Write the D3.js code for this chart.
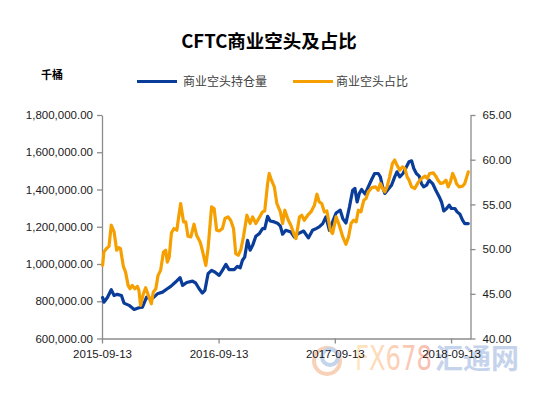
<!DOCTYPE html>
<html><head><meta charset="utf-8">
<script src="https://cdn.jsdelivr.net/npm/d3@7/dist/d3.min.js"></script>
<style>
html,body{margin:0;padding:0;background:#fff;}
svg{display:block;}
</style></head>
<body><svg id="c" width="537" height="394"></svg>
<script>
const title = "CFTC商业空头及占比";
const unitLabel = "千桶";
const seriesNames = ["商业空头持仓量", "商业空头占比"];
const xTickLabels = ["2015-09-13","2016-09-13","2017-09-13","2018-09-13"];
const xDomain = ["2015-09-13","2018-11-13"];
const leftTicks = [600000,800000,1000000,1200000,1400000,1600000,1800000];
const rightTicks = [40,45,50,55,60,65];

const blueDates = ["2015-09-15","2015-09-19","2015-09-30","2015-10-12","2015-10-21","2015-10-31","2015-11-13","2015-11-21","2015-12-07","2015-12-23",
"2016-01-07","2016-01-18","2016-01-31","2016-02-11","2016-02-21","2016-03-05","2016-03-21","2016-04-05","2016-04-16","2016-05-01",
"2016-05-15","2016-05-23","2016-06-05","2016-06-23","2016-07-03","2016-07-14","2016-07-24","2016-08-01","2016-08-11","2016-08-22",
"2016-09-01","2016-09-15","2016-09-25","2016-10-06","2016-10-16","2016-11-01","2016-11-11","2016-11-20","2016-11-27","2016-12-04",
"2016-12-13","2016-12-21","2016-12-29","2017-01-08","2017-01-19","2017-01-29","2017-02-05","2017-02-14","2017-02-22","2017-03-07",
"2017-03-17","2017-03-26","2017-04-02","2017-04-12","2017-04-28","2017-05-09","2017-05-21","2017-06-07","2017-06-22","2017-07-05",
"2017-07-16","2017-07-26","2017-08-06","2017-08-16","2017-08-27","2017-09-06","2017-09-17","2017-09-30","2017-10-08","2017-10-18",
"2017-10-29","2017-11-08","2017-11-15","2017-11-22","2017-11-29","2017-12-06","2017-12-17","2017-12-27","2018-01-07","2018-01-16",
"2018-01-27","2018-02-03","2018-02-10","2018-02-17","2018-02-27","2018-03-10","2018-03-20","2018-03-27","2018-04-05","2018-04-15",
"2018-04-26","2018-05-04","2018-05-12","2018-05-19","2018-05-27","2018-06-05","2018-06-12","2018-06-19","2018-06-28","2018-07-06",
"2018-07-17","2018-07-27","2018-08-07","2018-08-14","2018-08-21","2018-08-30","2018-09-07","2018-09-14","2018-09-25","2018-10-02",
"2018-10-11","2018-10-19","2018-10-26","2018-11-06"];

const blueValues = [820000,795000,820000,862000,831000,837000,831000,790000,778000,756000,
765000,768000,822000,814000,819000,840000,849000,867000,880000,903000,
927000,885000,901000,908000,898000,867000,844000,858000,948000,966000,
957000,939000,966000,998000,970000,970000,987000,980000,1020000,1037000,
1127000,1074000,1100000,1149000,1163000,1190000,1190000,1256000,1231000,1226000,
1219000,1203000,1160000,1181000,1172000,1145000,1163000,1177000,1140000,1181000,
1190000,1199000,1217000,1253000,1181000,1226000,1274000,1289000,1244000,1220000,
1307000,1396000,1406000,1333000,1379000,1400000,1375000,1414000,1455000,1486000,
1486000,1468000,1414000,1379000,1400000,1423000,1468000,1495000,1468000,1486000,
1522000,1549000,1554000,1513000,1486000,1472000,1432000,1414000,1423000,1450000,
1432000,1396000,1360000,1333000,1285000,1298000,1316000,1298000,1298000,1280000,
1267000,1235000,1217000,1217000];

const ratioDates = ["2015-09-15","2015-09-19","2015-09-27","2015-10-05","2015-10-12","2015-10-21","2015-10-29","2015-11-05","2015-11-10","2015-11-19",
"2015-11-26","2015-12-04","2015-12-10","2015-12-17","2015-12-25","2016-01-02","2016-01-07","2016-01-12","2016-01-21","2016-01-28",
"2016-02-02","2016-02-11","2016-02-15","2016-02-21","2016-02-29","2016-03-07","2016-03-15","2016-03-24","2016-03-31","2016-04-05",
"2016-04-11","2016-04-18","2016-04-26","2016-05-05","2016-05-10","2016-05-17","2016-05-26","2016-06-02","2016-06-09","2016-06-18",
"2016-06-28","2016-07-06","2016-07-17","2016-07-24","2016-08-04","2016-08-11","2016-08-22","2016-08-30","2016-09-07","2016-09-15",
"2016-09-25","2016-10-03","2016-10-13","2016-10-21","2016-10-30","2016-11-06","2016-11-14","2016-11-22","2016-11-30","2016-12-11",
"2016-12-21","2016-12-29","2017-01-08","2017-01-19","2017-01-29","2017-02-05","2017-02-14","2017-02-19","2017-02-26","2017-03-07",
"2017-03-15","2017-03-26","2017-04-02","2017-04-09","2017-04-20","2017-04-28","2017-05-07","2017-05-14","2017-05-25","2017-06-01",
"2017-06-09","2017-06-20","2017-06-30","2017-07-11","2017-07-19","2017-07-26","2017-08-03","2017-08-11","2017-08-19","2017-08-30",
"2017-09-06","2017-09-17","2017-09-27","2017-10-08","2017-10-18","2017-10-26","2017-11-03","2017-11-11","2017-11-19","2017-11-26",
"2017-12-04","2017-12-13","2017-12-20","2017-12-27","2018-01-07","2018-01-19","2018-01-27","2018-02-03","2018-02-10","2018-02-17",
"2018-02-24","2018-03-04","2018-03-13","2018-03-20","2018-03-27","2018-04-05","2018-04-13","2018-04-21","2018-04-28","2018-05-04",
"2018-05-12","2018-05-22","2018-06-01","2018-06-12","2018-06-23","2018-06-30","2018-07-08","2018-07-19","2018-07-27","2018-08-03",
"2018-08-11","2018-08-19","2018-08-28","2018-09-04","2018-09-11","2018-09-18","2018-09-25","2018-09-30","2018-10-08","2018-10-19",
"2018-10-26","2018-11-06"];

const ratioValues = [48.18,49.68,50.06,50.31,52.67,51.92,49.87,50.17,50.06,48.07,
47.43,45.94,45.57,45.94,45.57,45.83,45.38,43.70,45.01,45.68,
45.19,44.26,43.89,45.19,45.57,47.06,47.62,49.68,49.87,48.55,
49.11,51.81,52.30,52.11,53.42,55.10,53.04,53.04,51.44,51.36,
52.78,51.55,50.80,49.87,48.18,50.06,54.72,54.54,52.11,52.03,
52.30,53.42,53.60,53.23,52.30,49.50,49.31,49.94,51.36,53.79,
52.86,53.60,52.86,53.53,54.16,54.27,57.34,58.46,57.71,56.96,
55.10,54.16,52.86,54.35,53.23,52.67,51.74,51.18,53.60,53.79,
53.23,53.79,54.16,54.91,56.14,55.28,55.10,54.16,54.27,52.11,
51.74,53.60,52.67,51.36,50.54,51.36,52.86,53.23,53.04,54.35,
54.16,55.47,55.66,56.40,56.87,56.96,56.59,57.34,56.78,56.40,
56.96,58.08,59.59,59.96,59.40,58.83,59.20,59.03,58.08,57.71,
56.96,56.78,57.41,57.90,58.16,57.90,58.46,58.53,58.16,57.71,
57.34,57.41,57.71,56.96,57.52,58.46,57.90,57.34,56.96,57.04,
57.34,58.64];

const BLUE = "#0a3d9a", ORANGE = "#f5a000", AXIS = "#8c8c8c", TXT = "#1a1a1a";
const parse = d3.timeParse("%Y-%m-%d");
const svg = d3.select("#c");
const L = 102, R = 470.5, T = 115, B = 338.5;
const FONT = "'Liberation Sans', Arial, sans-serif";
const CJK = "'Noto Sans CJK SC', sans-serif";

const x = d3.scaleTime().domain(xDomain.map(parse)).range([L, R]);
const yL = d3.scaleLinear().domain([600000, 1800000]).range([B, T]);
const yR = d3.scaleLinear().domain([40, 65]).range([B, T]);

// watermark
const wm = svg.append("g").attr("opacity", 0.6);
const grad = svg.append("defs").append("linearGradient").attr("id","wmg").attr("x1","0").attr("x2","1");
grad.append("stop").attr("offset","0").attr("stop-color","#ffd890");
grad.append("stop").attr("offset","1").attr("stop-color","#f59080");
wm.append("circle").attr("cx",327).attr("cy",361).attr("r",13).attr("fill","none").attr("stroke","#f2b38a").attr("stroke-width",4);
wm.append("circle").attr("cx",330).attr("cy",357).attr("r",8).attr("fill","none").attr("stroke","#9db8de").attr("stroke-width",4);
wm.append("text").attr("x",355).attr("y",370).attr("font-family","'DejaVu Sans', sans-serif")
  .attr("font-size",34).attr("fill","url(#wmg)").attr("textLength",77).attr("lengthAdjust","spacingAndGlyphs").text("FX678");
wm.append("text").attr("x",435).attr("y",369).attr("font-family",CJK).attr("font-weight","bold")
  .attr("font-size",28).attr("fill","#9fb9e0").text("汇通网");

// title
svg.append("text").attr("x",269).attr("y",48).attr("text-anchor","middle")
  .attr("font-family",CJK).attr("font-weight","bold").attr("font-size",18.5).attr("fill","#000").text(title);
svg.append("text").attr("x",41).attr("y",79).attr("font-family",CJK).attr("font-weight","bold")
  .attr("font-size",11).attr("fill","#000").text(unitLabel);

// legend
const lg = [{x1:137,x2:177,tx:183,c:BLUE,t:seriesNames[0]},{x1:293,x2:333,tx:336,c:ORANGE,t:seriesNames[1]}];
lg.forEach(d => {
  svg.append("line").attr("x1",d.x1).attr("x2",d.x2).attr("y1",81.5).attr("y2",81.5).attr("stroke",d.c).attr("stroke-width",3);
  svg.append("text").attr("x",d.tx).attr("y",86).attr("font-family",CJK).attr("font-size",12).attr("fill","#404040").text(d.t);
});

function styleAxis(g){
  g.select(".domain").attr("stroke",AXIS).attr("stroke-width",1.3);
  g.selectAll(".tick line").attr("stroke",AXIS).attr("stroke-width",1.3);
  g.selectAll(".tick text").attr("fill",TXT).attr("font-family",FONT).attr("font-size",11.5);
}

const gl = svg.append("g").attr("transform",`translate(${L},0)`)
  .call(d3.axisLeft(yL).tickValues(leftTicks).tickFormat(d3.format(",.2f")).tickSize(5).tickSizeOuter(0).tickPadding(4));
styleAxis(gl);
const gr = svg.append("g").attr("transform",`translate(${R},0)`)
  .call(d3.axisRight(yR).tickValues(rightTicks).tickFormat(d3.format(".2f")).tickSize(5).tickSizeOuter(0).tickPadding(7));
styleAxis(gr);
const gb = svg.append("g").attr("transform",`translate(0,${B})`)
  .call(d3.axisBottom(x).tickValues(xTickLabels.map(parse)).tickFormat(d3.timeFormat("%Y-%m-%d")).tickSize(5).tickSizeOuter(0).tickPadding(6));
styleAxis(gb);

const blue = blueDates.map((d,i)=>({d:parse(d),v:blueValues[i]}));
const ratio = ratioDates.map((d,i)=>({d:parse(d),v:ratioValues[i]}));

svg.append("path").datum(blue).attr("fill","none").attr("stroke",BLUE).attr("stroke-width",3.2)
  .attr("stroke-linejoin","round").attr("stroke-linecap","round")
  .attr("d", d3.line().x(d=>x(d.d)).y(d=>yL(d.v)));
svg.append("path").datum(ratio).attr("fill","none").attr("stroke",ORANGE).attr("stroke-width",3.2)
  .attr("stroke-linejoin","round").attr("stroke-linecap","round")
  .attr("d", d3.line().x(d=>x(d.d)).y(d=>yR(d.v)));
</script></body></html>
